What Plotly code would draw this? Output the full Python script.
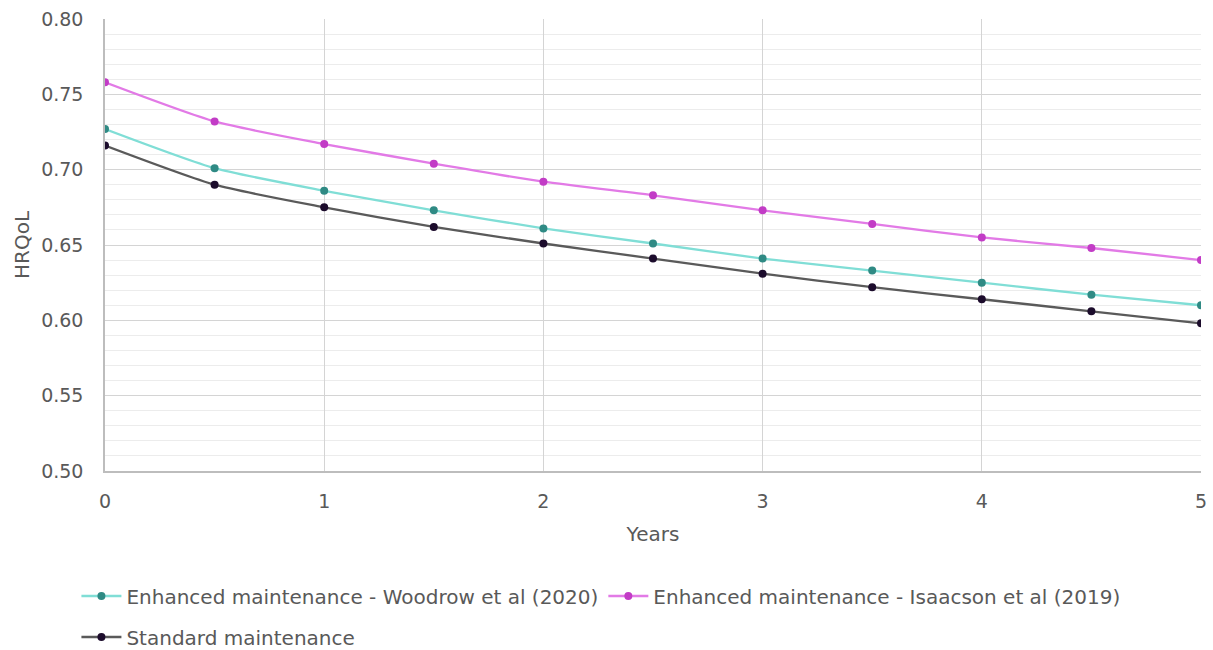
import plotly.graph_objects as go

years = [0, 0.5, 1, 1.5, 2, 2.5, 3, 3.5, 4, 4.5, 5]
woodrow = [0.727, 0.701, 0.686, 0.673, 0.661, 0.651, 0.641, 0.633, 0.625, 0.617, 0.610]
isaacson = [0.758, 0.732, 0.717, 0.704, 0.692, 0.683, 0.673, 0.664, 0.655, 0.648, 0.640]
standard = [0.716, 0.690, 0.675, 0.662, 0.651, 0.641, 0.631, 0.622, 0.614, 0.606, 0.598]

names = ["Enhanced maintenance - Woodrow et al (2020)",
         "Enhanced maintenance - Isaacson et al (2019)",
         "Standard maintenance"]
series = [woodrow, isaacson, standard]
line_colors = ["#80ded6", "#e27ae6", "#5a5a5a"]
marker_colors = ["#2f8a84", "#c23cc6", "#1c0c2c"]
legend_ids = ["legend", "legend", "legend2"]

fig = go.Figure()
for n, s, lc, mc, lg in zip(names, series, line_colors, marker_colors, legend_ids):
    fig.add_trace(go.Scatter(
        x=years, y=s, name=n, mode="lines+markers", legend=lg,
        line=dict(color=lc, width=2.3, shape="spline", smoothing=0.6),
        marker=dict(color=mc, size=8),
    ))

font_family = "DejaVu Sans, Liberation Sans, Arial, sans-serif"
text_color = "#595959"
fs = 19
lfs = 20
legend_common = dict(orientation="h", xref="container", yref="container",
                     xanchor="left", yanchor="middle",
                     font=dict(size=lfs, color=text_color, family=font_family),
                     itemwidth=40, bgcolor="rgba(0,0,0,0)")
fig.update_layout(
    width=1213, height=650,
    margin=dict(l=105, r=12, t=19, b=179),
    paper_bgcolor="white", plot_bgcolor="white",
    font=dict(family=font_family, size=fs, color=text_color),
    showlegend=True,
    legend=dict(x=0.063, y=1 - 596 / 650, **legend_common),
    legend2=dict(x=0.063, y=1 - 637 / 650, **legend_common),
    xaxis=dict(range=[0, 5], tickvals=[0, 1, 2, 3, 4, 5], showgrid=True,
               gridcolor="#d4d4d4", gridwidth=1, zeroline=False,
               showline=True, linecolor="#bdbdbd", linewidth=1.5,
               ticks="", ticklabelstandoff=12, automargin=False,
               title=dict(text="Years", font=dict(size=lfs, color=text_color), standoff=16)),
    yaxis=dict(range=[0.5, 0.8], tickvals=[0.5, 0.55, 0.6, 0.65, 0.7, 0.75, 0.8],
               tickformat=".2f", showgrid=True, gridcolor="#d4d4d4", gridwidth=1,
               zeroline=False, showline=True, linecolor="#bdbdbd", linewidth=1.5,
               ticks="", ticklabelstandoff=16, automargin=False,
               minor=dict(dtick=0.01, showgrid=True, gridcolor="#ececec", gridwidth=1),
               title=dict(text="HRQoL", font=dict(size=lfs, color=text_color), standoff=6)),
)

fig.write_html("out.html")
